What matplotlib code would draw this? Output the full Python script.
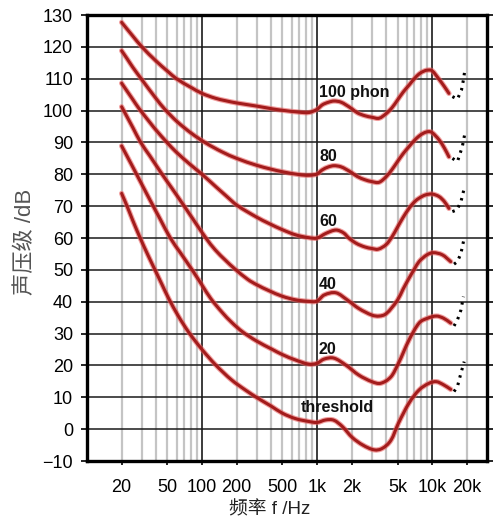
import numpy as np
import matplotlib
matplotlib.use("Agg")
import matplotlib.pyplot as plt
from matplotlib.path import Path
from matplotlib.patches import PathPatch

# equal loudness contours (Hz, dB)
c100_f = [20, 25, 30, 40, 50, 60, 80, 100, 130, 160, 200, 300, 400, 500, 700, 850,
          1000, 1110, 1250, 1400, 1600, 1780, 2000, 2240, 2600, 3000, 3460, 4000, 4500,
          5000, 5600, 6300, 7000, 7700, 8500, 9100, 10000, 11500, 12800, 14000]
c100_db = [127.7, 123.4, 120.0, 115.5, 112.4, 110.0, 107.3, 105.4, 103.9, 103.1, 102.4,
           101.4, 100.6, 100.1, 99.5, 99.4, 100.4, 101.8, 102.6, 103.0, 102.7, 101.8,
           100.6, 99.3, 98.4, 97.9, 97.6, 99.1, 101.0, 103.3, 105.8, 108.0, 110.0, 111.5,
           112.4, 112.7, 112.5, 109.8, 107.5, 105.4]

c80_f = [20, 22.4, 25, 30, 40, 47, 60, 80, 107, 150, 200, 300, 400, 500, 700, 850,
         1000, 1110, 1250, 1400, 1600, 1780, 2000, 2240, 2600, 3000, 3460, 4000, 4500,
         5000, 5600, 6300, 7000, 7700, 8500, 9300, 10000, 11500, 12800, 14000]
c80_db = [118.8, 116.2, 113.6, 109.7, 103.7, 100.6, 96.7, 93.0, 89.9, 87.0, 85.0, 82.8,
          81.6, 80.8, 79.9, 79.7, 80.1, 81.4, 82.3, 82.7, 82.4, 81.6, 80.5, 79.3, 78.3,
          77.7, 77.5, 79.3, 81.6, 84.0, 86.5, 88.7, 90.6, 92.0, 93.0, 93.4, 93.1, 90.8,
          88.2, 85.5]

c60_f = [20, 25, 28, 35, 40, 49.6, 60, 80, 100, 130, 160, 201, 300, 380, 500, 650, 850,
         1000, 1200, 1460, 1700, 1900, 2200, 2600, 3000, 3400, 4000, 4500, 5000, 5600,
         6300, 7000, 7700, 8700, 10000, 11500, 12800, 14000]
c60_db = [108.6, 103.5, 100.9, 96.4, 93.8, 90.0, 86.9, 82.9, 80.0, 76.3, 73.4, 70.3, 66.5,
          64.6, 62.6, 61.0, 60.1, 60.0, 61.5, 62.5, 61.6, 59.9, 58.3, 57.2, 56.7, 56.5,
          58.0, 60.5, 63.4, 66.5, 69.3, 71.3, 72.5, 73.5, 73.8, 73.0, 71.4, 69.3]

c40_f = [20, 25, 29.3, 35, 45, 55, 70, 85, 108, 130, 160, 190, 250, 300, 380, 500, 650,
         850, 1000, 1150, 1460, 1840, 2300, 3000, 3460, 4000, 5000, 5600, 6300, 7000,
         7700, 9000, 10200, 12300, 14500]
c40_db = [101.2, 94.7, 90.0, 85.9, 80.0, 75.5, 70.0, 65.5, 60.0, 56.3, 53.0, 50.5, 47.0,
          45.3, 43.5, 41.7, 40.6, 40.1, 40.2, 42.1, 42.8, 40.5, 37.9, 35.8, 35.5, 36.3,
          40.5, 44.0, 47.4, 50.2, 52.6, 54.7, 55.4, 54.7, 52.6]

c20_f = [20, 24.5, 30, 35.8, 43, 53, 65, 82, 100, 119, 150, 180, 224, 300, 400, 500, 650,
         850, 1000, 1150, 1400, 1780, 2300, 3000, 3570, 4400, 5100, 6300, 7700, 9100,
         10900, 12600, 14500]
c20_db = [88.9, 82.9, 76.8, 71.5, 66.1, 60.0, 55.3, 50.0, 45.2, 41.0, 36.6, 33.6, 30.6,
          27.6, 25.2, 23.4, 21.7, 20.4, 20.7, 22.0, 22.3, 20.1, 17.0, 14.9, 14.4, 16.5,
          20.7, 28.0, 33.3, 34.8, 35.5, 34.8, 33.3]

c0_f = [20, 22.3, 25, 29, 34, 39, 45, 51, 62, 77, 100, 131, 180, 240, 303, 400, 500, 650,
        850, 1000, 1190, 1400, 1660, 2020, 2500, 3140, 3700, 4400, 5100, 6300, 7700, 9400,
        10900, 12600, 14500]
c0_db = [74.0, 70.0, 65.5, 60.0, 54.5, 50.0, 45.3, 41.2, 35.6, 30.3, 25.0, 20.2, 15.5,
         12.2, 9.8, 7.2, 5.0, 3.3, 2.4, 2.1, 2.9, 2.8, 0.8, -2.6, -5.0, -6.5, -6.0, -3.4,
         1.9, 8.2, 12.3, 14.4, 14.9, 13.9, 12.5]

# dotted ends above ~14 kHz
d100_f = [14000, 15000, 16600, 18000, 18700, 19300]
d100_db = [105.4, 104.4, 103.6, 106.5, 109.6, 113.0]
d80_f = [14000, 15000, 16600, 18300, 19300]
d80_db = [85.5, 85.0, 84.0, 88.7, 93.0]
d60_f = [14000, 15000, 16400, 17800, 19000]
d60_db = [69.3, 68.3, 68.8, 71.4, 75.6]
d40_f = [14500, 15500, 16600, 17800, 19000]
d40_db = [52.6, 51.8, 52.6, 55.2, 60.0]
d20_f = [14500, 15500, 16600, 17800, 18700]
d20_db = [33.3, 32.4, 34.3, 37.4, 41.6]
d0_f = [14500, 15500, 16600, 17800, 19000]
d0_db = [12.5, 11.8, 13.4, 17.6, 21.2]

curves = [(c100_f, c100_db), (c80_f, c80_db), (c60_f, c60_db),
          (c40_f, c40_db), (c20_f, c20_db), (c0_f, c0_db)]
dots = [(d100_f, d100_db), (d80_f, d80_db), (d60_f, d60_db),
        (d40_f, d40_db), (d20_f, d20_db), (d0_f, d0_db)]

labels = ["100 phon", "80", "60", "40", "20", "threshold"]
label_f = [1040, 1050, 1050, 1040, 1030, 721]
label_db = [105.6, 85.6, 65.2, 45.3, 24.9, 6.7]

xticks = [20, 50, 100, 200, 500, 1000, 2000, 5000, 10000, 20000]
xtick_labels = ["20", "50", "100", "200", "500", "1k", "2k", "5k", "10k", "20k"]
yticks = list(range(-10, 131, 10))


def smooth_path(f, db):
    # cubic bezier path through the read points (hermite tangents in log-f)
    lx = np.log10(f)
    y = np.asarray(db, float)
    n = len(lx)
    m = np.zeros(n)
    m[1:-1] = (y[2:] - y[:-2]) / (lx[2:] - lx[:-2])
    m[0] = (y[1] - y[0]) / (lx[1] - lx[0])
    m[-1] = (y[-1] - y[-2]) / (lx[-1] - lx[-2])
    verts = [(f[0], y[0])]
    codes = [Path.MOVETO]
    for i in range(n - 1):
        h = lx[i + 1] - lx[i]
        verts.append((10 ** (lx[i] + h / 3), y[i] + m[i] * h / 3))
        verts.append((10 ** (lx[i + 1] - h / 3), y[i + 1] - m[i + 1] * h / 3))
        verts.append((f[i + 1], y[i + 1]))
        codes += [Path.CURVE4] * 3
    return Path(verts, codes)


plt.rcParams['font.family'] = ['Liberation Sans', 'Noto Sans CJK SC', 'DejaVu Sans']

fig = plt.figure(figsize=(4.96, 5.31), dpi=100)
ax = fig.add_axes([0.1754, 0.1318, 0.8065, 0.8399])
ax.set_xscale('log')
ax.set_xlim(10, 30000)
ax.set_ylim(-10, 130)

# grid
minor = [m * d for d in (10, 100, 1000) for m in range(2, 10)] + [20000]
for f in minor:
    ax.axvline(f, color='#c4c4c4', lw=1.6, zorder=1)
for f in (100, 1000, 10000):
    ax.axvline(f, color='#1a1a1a', lw=1.2, zorder=2)
for y in yticks:
    ax.axhline(y, color='#1a1a1a', lw=1.1, zorder=2)

for f, db in curves:
    p = smooth_path(f, db)
    ax.add_patch(PathPatch(p, fill=False, edgecolor='#e86060', lw=3.8, alpha=0.6,
                           capstyle='round', joinstyle='round', zorder=3))
    ax.add_patch(PathPatch(p, fill=False, edgecolor='#a31c1c', lw=2.2,
                           capstyle='round', joinstyle='round', zorder=4))

for f, db in dots:
    ax.plot(f[1:], db[1:], color='black', lw=2.2, linestyle=(0, (0.8, 1.7)),
            dash_capstyle='butt', zorder=4)

for t, f, db in zip(labels, label_f, label_db):
    ax.text(f, db, t, fontsize=11.5, fontweight='bold', ha='left', va='center',
            color='#111111', zorder=5)

ax.set_xticks(xticks)
ax.set_xticklabels(xtick_labels)
ax.xaxis.set_minor_locator(matplotlib.ticker.NullLocator())
ax.set_yticks(yticks)
ax.tick_params(axis='y', which='both', direction='out', length=4, width=1.2,
               labelsize=13, pad=6, right=True)
ax.tick_params(axis='x', direction='out', length=3, width=1.2, labelsize=13, pad=10)

for s in ax.spines.values():
    s.set_linewidth(2.4)
    s.set_color('black')

fig.text(0.544, 0.04, "频率 f /Hz", fontsize=13.5, ha='center', va='center', color='#222222')
fig.text(0.052, 0.545, "声压级 /dB", fontsize=16, ha='center', va='center',
         rotation=90, color='#555555')

fig.savefig("out.png", dpi=100)
